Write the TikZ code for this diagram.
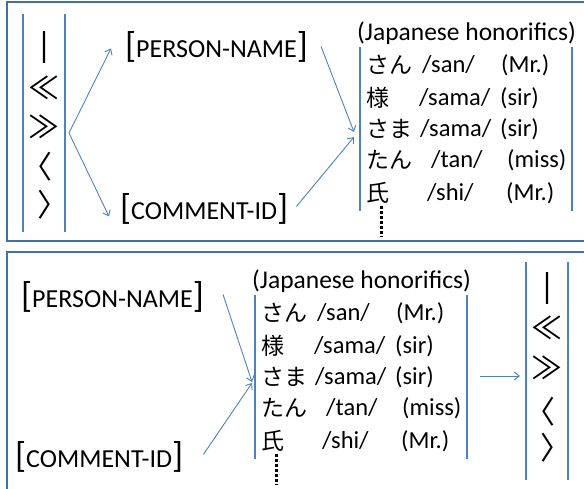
\documentclass[tikz,border=0pt]{standalone}
\usepackage{fontspec}
\setmainfont{Carlito}
\newfontfamily\jpfont{Noto Sans CJK JP}
\newfontfamily\barfont[FakeBold=3]{Noto Sans CJK JP}
\usetikzlibrary{arrows.meta}
\definecolor{framec}{HTML}{41719C}
\definecolor{linec}{HTML}{4F81BD}
\tikzset{
  frame/.style={draw=framec, line width=2pt},
  vline/.style={draw=linec, line width=1.8pt},
  arr/.style={draw=linec, line width=0.9pt, -{Straight Barb[length=5pt,width=8pt]}},
  lbl/.style={font=\fontsize{26}{26}\selectfont, inner sep=0pt, anchor=base west},
  sym/.style={font=\jpfont\fontsize{31}{31}\selectfont, inner sep=0pt},
  barsym/.style={font=\barfont\fontsize{31}{31}\selectfont, inner sep=0pt},
  capt/.style={font=\fontsize{25.5}{25.5}\selectfont, inner sep=0pt, anchor=west},
  rowt/.style={font=\fontsize{24.5}{24.5}\selectfont, inner sep=0pt, anchor=west},
  kana/.style={font=\jpfont\fontsize{23}{23}\selectfont, inner sep=0pt, anchor=west},
  dotcol/.style={draw=black, line width=3pt, dash pattern=on 2.6pt off 2.4pt},
}
\newcommand{\bigbr}[1]{{\fontsize{36}{36}\selectfont #1}}
\newcommand{\hrow}[7]{%
  \node[kana] (#1k) at (6,#2) {#3};
  \node[rowt] (#1r) at (#5,#2) {#4};
  \node[rowt] (#1g) at (#7,#2) {#6};}
\newcommand{\honblock}[1]{%
  \draw[vline] (0,0) -- (0,164);
  \draw[vline] (212,0) -- (212,164);
  \node[capt] (#1cap) at (-3,-14) {(Japanese honorifics)};
  \hrow{#1a}{18}{さん}{/san/}{62}{(Mr.)}{141}
  \hrow{#1b}{51}{様}{/sama/}{59}{(sir)}{140}
  \hrow{#1c}{82}{さま}{/sama/}{60}{(sir)}{140}
  \hrow{#1d}{113}{たん}{/tan/}{71}{(miss)}{147}
  \hrow{#1e}{146}{氏}{/shi/}{67}{(Mr.)}{146}
  \draw[dotcol] (21,159) -- (21,190);}
\newcommand{\symcol}{%
  \draw[vline] (-21,0) -- (-21,218);
  \draw[vline] (21,0) -- (21,218);}
\begin{document}
\begin{tikzpicture}[x=1pt,y=-1pt]
\clip (0,0) rectangle (584,489);
% frames
\draw[frame] (7,2) rectangle (600,241);
\draw[frame] (7,252) rectangle (600,520);

% ---------- top panel ----------
\begin{scope}[shift={(44,14)}]
  \symcol
\end{scope}
\node[barsym] (ts1) at (44,47) {｜};
\node[sym] (ts2) at (44,88) {≪};
\node[sym] (ts3) at (44,127) {≫};
\node[sym] (ts4) at (37,167) {〈};
\node[sym] (ts5) at (53,205) {〉};
\coordinate (tfork) at (69,133);

\node[lbl] (tpn) at (125,58) {\bigbr{[}PERSON-NAME\bigbr{]}};
\node[lbl] (tci) at (120,220) {\bigbr{[}COMMENT-ID\bigbr{]}};

\begin{scope}[shift={(360,47)}]
  \honblock{th}
\end{scope}
\coordinate (thin1) at (354,132);
\coordinate (thin2) at (354,137);

\draw[arr] (tfork) -- ([xshift=-14pt,yshift=-1pt]tpn.west);
\draw[arr] (tfork) -- ([xshift=-11pt,yshift=-7pt]tci.west);
\draw[arr] ([xshift=13pt,yshift=1pt]tpn.east) -- (thin1);
\draw[arr] ([xshift=8pt,yshift=3pt]tci.east) -- (thin2);

% ---------- bottom panel ----------
\node[lbl] (bpn) at (21,308) {\bigbr{[}PERSON-NAME\bigbr{]}};
\node[lbl] (bci) at (15,467) {\bigbr{[}COMMENT-ID\bigbr{]}};

\begin{scope}[shift={(255,295)}]
  \honblock{bh}
\end{scope}
\coordinate (bhin1) at (252,382);
\coordinate (bhin2) at (252,383);
\draw[arr] ([xshift=19pt,yshift=3pt]bpn.east) -- (bhin1);
\draw[arr] ([xshift=20pt,yshift=2pt]bci.east) -- (bhin2);

\begin{scope}[shift={(547,262)}]
  \symcol
\end{scope}
\node[barsym] (bs1) at (547,288) {｜};
\node[sym] (bs2) at (547,328) {≪};
\node[sym] (bs3) at (547,368) {≫};
\node[sym] (bs4) at (540,412) {〈};
\node[sym] (bs5) at (556,448) {〉};

\coordinate (bout) at (480,376);
\coordinate (bsin) at (520,376);
\draw[arr] (bout) -- (bsin);
\end{tikzpicture}
\end{document}
